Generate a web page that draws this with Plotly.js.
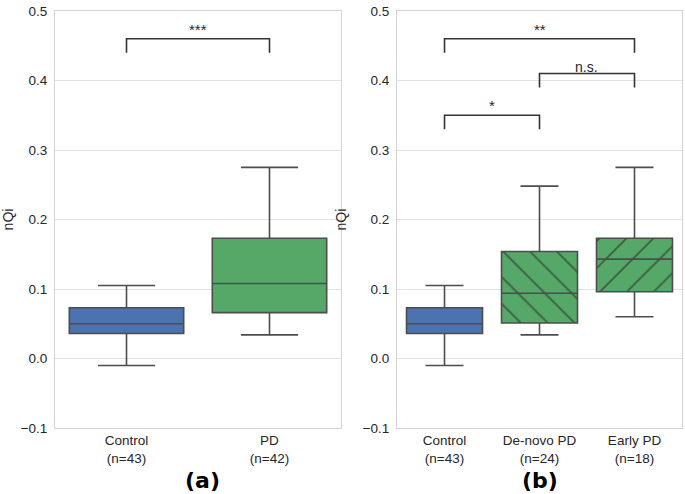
<!DOCTYPE html>
<html>
<head>
<meta charset="utf-8">
<script src="https://cdn.plot.ly/plotly-3.0.1.min.js"></script>
<style>
  html, body { margin: 0; padding: 0; background: #fff; }
  #chart { width: 685px; height: 494px; }
</style>
</head>
<body>
<div id="chart"></div>
<script>
// Panel (a): Control vs PD
const catsA = ['Control', 'PD'];
const countsA = [43, 42];
const lowA = [-0.010, 0.034];
const q1A = [0.036, 0.066];
const medA = [0.050, 0.108];
const q3A = [0.073, 0.173];
const highA = [0.105, 0.275];

// Panel (b): Control vs De-novo PD vs Early PD
const catsB = ['Control', 'De-novo PD', 'Early PD'];
const countsB = [43, 24, 18];
const lowB = [-0.010, 0.034, 0.060];
const q1B = [0.036, 0.051, 0.096];
const medB = [0.050, 0.094, 0.143];
const q3B = [0.073, 0.154, 0.173];
const highB = [0.105, 0.248, 0.275];
const hatchB = ['', '\\', '/'];

// significance brackets (category index from / to, height, label)
const brFromA = [0], brToA = [1], brYA = [0.46], brLabelA = ['***'];
const brFromB = [0, 1, 0], brToB = [1, 2, 2], brYB = [0.35, 0.41, 0.46], brLabelB = ['*', 'n.s.', '**'];
const brDrop = 0.02;

const yTicks = [-0.1, 0.0, 0.1, 0.2, 0.3, 0.4, 0.5];

const blue = '#4c72b0';
const green = '#55a868';
const edge = '#4d4d4d';
const textCol = '#262626';

function boxColor(cat) {
    return cat === 'Control' ? blue : green;
}

function boxTraces(cats, low, q1, med, q3, high, hatch, xa, ya) {
    const traces = [];
    // patterned fill under the boxes (only where a hatch is given)
    if (hatch) {
        const idx = cats.map((_, i) => i).filter((i) => hatch[i] !== '');
        traces.push({
            type: 'bar',
            x: idx,
            base: idx.map((i) => q1[i]),
            y: idx.map((i) => q3[i] - q1[i]),
            width: 0.8,
            marker: {
                color: green,
                line: { width: 0 },
                pattern: {
                    shape: idx.map((i) => hatch[i]),
                    fgcolor: '#3b5c42',
                    bgcolor: green,
                    size: 19,
                    solidity: 0.09,
                    fillmode: 'replace'
                }
            },
            xaxis: xa, yaxis: ya,
            hoverinfo: 'skip',
            showlegend: false
        });
    }
    cats.forEach((c, i) => {
        const patterned = hatch && hatch[i] !== '';
        traces.push({
            type: 'box',
            x: [i],
            q1: [q1[i]],
            median: [med[i]],
            q3: [q3[i]],
            lowerfence: [low[i]],
            upperfence: [high[i]],
            width: 0.8,
            whiskerwidth: 0.5,
            boxpoints: false,
            fillcolor: patterned ? 'rgba(0,0,0,0)' : boxColor(c),
            line: { color: edge, width: 1.6 },
            xaxis: xa, yaxis: ya,
            showlegend: false
        });
    });
    return traces;
}

function bracketTraces(from, to, ys, xa, ya) {
    return from.map((f, i) => ({
        type: 'scatter',
        mode: 'lines',
        x: [f, f, to[i], to[i]],
        y: [ys[i] - brDrop, ys[i], ys[i], ys[i] - brDrop],
        line: { color: '#333333', width: 1.6 },
        xaxis: xa, yaxis: ya,
        hoverinfo: 'skip',
        showlegend: false
    }));
}

function bracketLabels(from, to, ys, labels, xa, ya) {
    return labels.map((t, i) => ({
        x: (from[i] + to[i]) / 2,
        y: ys[i],
        xref: xa, yref: ya,
        text: t,
        showarrow: false,
        yanchor: 'bottom',
        yshift: t === 'n.s.' ? -3 : -1,
        font: { family: 'Liberation Sans, Arial, sans-serif', size: t === 'n.s.' ? 14 : 15, color: textCol }
    }));
}

const tickTextA = catsA.map((c, i) => `${c}<br>(n=${countsA[i]})`);
const tickTextB = catsB.map((c, i) => `${c}<br>(n=${countsB[i]})`);

const data = [
    ...boxTraces(catsA, lowA, q1A, medA, q3A, highA, null, 'x', 'y'),
    ...bracketTraces(brFromA, brToA, brYA, 'x', 'y'),
    ...boxTraces(catsB, lowB, q1B, medB, q3B, highB, hatchB, 'x2', 'y2'),
    ...bracketTraces(brFromB, brToB, brYB, 'x2', 'y2')
];

const font = { family: 'Liberation Sans, Arial, sans-serif', size: 13.5, color: textCol };

const xBase = {
    showgrid: false,
    zeroline: false,
    showline: true,
    mirror: true,
    linecolor: '#d4d4d4',
    linewidth: 1,
    ticks: '',
    tickfont: font,
    fixedrange: true
};
const yBase = {
    range: [-0.1, 0.5],
    tickvals: yTicks,
    tickformat: '.1f',
    showgrid: true,
    gridcolor: '#e2e2e2',
    gridwidth: 1,
    zeroline: false,
    showline: true,
    mirror: true,
    linecolor: '#d4d4d4',
    linewidth: 1,
    ticks: '',
    ticklabelstandoff: 4,
    tickfont: font,
    title: { text: 'nQi', font: Object.assign({}, font, { size: 14 }), standoff: 12 },
    automargin: false,
    fixedrange: true
};

const layout = {
    width: 685,
    height: 494,
    margin: { l: 0, r: 0, t: 0, b: 0 },
    paper_bgcolor: '#ffffff',
    plot_bgcolor: '#ffffff',
    showlegend: false,
    boxmode: 'overlay',
    barmode: 'overlay',
    font: font,
    xaxis: Object.assign({}, xBase, {
        domain: [0.0803, 0.4978],
        range: [-0.5, catsA.length - 0.5],
        tickvals: catsA.map((_, i) => i),
        ticktext: tickTextA,
        anchor: 'y'
    }),
    yaxis: Object.assign({}, yBase, { domain: [0.1336, 0.9777], anchor: 'x' }),
    xaxis2: Object.assign({}, xBase, {
        domain: [0.5796, 0.9956],
        range: [-0.5, catsB.length - 0.5],
        tickvals: catsB.map((_, i) => i),
        ticktext: tickTextB,
        anchor: 'y2'
    }),
    yaxis2: Object.assign({}, yBase, { domain: [0.1336, 0.9777], anchor: 'x2' }),
    annotations: [
        ...bracketLabels(brFromA, brToA, brYA, brLabelA, 'x', 'y'),
        ...bracketLabels(brFromB, brToB, brYB, brLabelB, 'x2', 'y2'),
        {
            text: '<b>(a)</b>', xref: 'paper', yref: 'paper', x: 0.2963, y: 0.028,
            xanchor: 'center', yanchor: 'middle',
            showarrow: false, font: { family: 'DejaVu Sans, sans-serif', size: 22, color: '#000' }
        },
        {
            text: '<b>(b)</b>', xref: 'paper', yref: 'paper', x: 0.7883, y: 0.028,
            xanchor: 'center', yanchor: 'middle',
            showarrow: false, font: { family: 'DejaVu Sans, sans-serif', size: 22, color: '#000' }
        }
    ]
};

Plotly.newPlot('chart', data, layout, { displayModeBar: false, staticPlot: true });
</script>
</body>
</html>
